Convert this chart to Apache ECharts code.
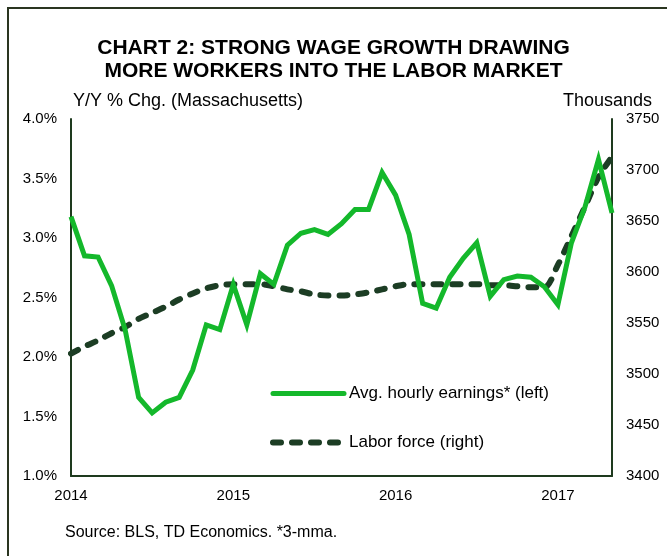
<!DOCTYPE html>
<html>
<head>
<meta charset="utf-8">
<script src="https://cdn.jsdelivr.net/npm/echarts@6/dist/echarts.min.js"></script>
<style>
  html, body { margin: 0; padding: 0; background: #fff; }
  #chart { width: 667px; height: 556px; }
</style>
</head>
<body>
<div id="chart"></div>
<script>
// monthly, Jan 2014 .. May 2017
const years = ['2014', '2015', '2016', '2017'];
const months = [];
years.forEach(y => {
  for (let m = 1; m <= 12; m++) {
    if (y === '2017' && m > 5) break;
    months.push(y + '-' + String(m).padStart(2, '0'));
  }
});

// Avg. hourly earnings, y/y % (3-mma), left axis
const earnings = [
  3.18, 2.85, 2.84, 2.60, 2.23, 1.66, 1.53, 1.62, 1.66, 1.89, 2.27, 2.23,
  2.61, 2.27, 2.70, 2.61, 2.94, 3.04, 3.07, 3.03, 3.12, 3.24, 3.24, 3.55,
  3.36, 3.03, 2.45, 2.41, 2.67, 2.83, 2.96, 2.51, 2.65, 2.68, 2.67, 2.59,
  2.44, 2.96, 3.26, 3.66, 3.21
];

// Labor force, thousands, right axis
const laborForce = [
  3520, 3527, 3533, 3540, 3546, 3554, 3560, 3566, 3573, 3579, 3584, 3587,
  3588, 3588, 3588, 3586, 3583, 3581, 3578, 3577, 3577, 3578, 3580, 3583,
  3586, 3588, 3588, 3588, 3588, 3588, 3588, 3587, 3587, 3586, 3585, 3585,
  3607, 3635, 3664, 3693, 3713
];

const leftTicks = [1.0, 4.0, 0.5];
const rightTicks = [3400, 3750, 50];

const green = '#14b82b';
const darkGreen = '#1c3d24';
const axisColor = '#1e3a1e';
const font = "'Liberation Sans', Arial, sans-serif";
const dash = [8, 11];

const chart = echarts.init(document.getElementById('chart'));

chart.setOption({
  backgroundColor: '#fff',
  animation: false,
  textStyle: { fontFamily: font },
  title: {
    text: 'CHART 2: STRONG WAGE GROWTH DRAWING\nMORE WORKERS INTO THE LABOR MARKET',
    left: 'center',
    top: 32,
    textStyle: {
      fontFamily: font,
      fontWeight: 'bold',
      fontSize: 21,
      lineHeight: 23,
      color: '#000'
    }
  },
  grid: {
    left: 71,
    right: 55,
    top: 119,
    bottom: 80,
    containLabel: false
  },
  legend: {
    orient: 'vertical',
    left: 265,
    top: 380,
    itemWidth: 71,
    itemHeight: 14,
    itemGap: 32,
    textStyle: { fontSize: 17, color: '#000', fontFamily: font },
    data: [
      {
        name: 'Avg. hourly earnings* (left)',
        itemStyle: { opacity: 0 },
        lineStyle: { color: green, width: 5, cap: 'round' }
      },
      {
        name: 'Labor force (right)',
        itemStyle: { opacity: 0 },
        lineStyle: { color: darkGreen, width: 6, type: dash, cap: 'round' }
      }
    ]
  },
  xAxis: {
    type: 'category',
    data: months,
    boundaryGap: false,
    axisLine: { lineStyle: { color: axisColor, width: 2 } },
    axisTick: { show: false },
    axisLabel: {
      interval: (i) => i % 12 === 0,
      formatter: (v) => v.slice(0, 4),
      color: '#000',
      fontSize: 15,
      margin: 12
    },
    splitLine: { show: false }
  },
  yAxis: [
    {
      type: 'value',
      min: leftTicks[0],
      max: leftTicks[1],
      interval: leftTicks[2],
      axisLine: { show: true, lineStyle: { color: axisColor, width: 2 } },
      axisTick: { show: false },
      splitLine: { show: false },
      axisLabel: {
        formatter: (v) => v.toFixed(1) + '%',
        color: '#000',
        fontSize: 15,
        margin: 14
      }
    },
    {
      type: 'value',
      min: rightTicks[0],
      max: rightTicks[1],
      interval: rightTicks[2],
      position: 'right',
      axisLine: { show: true, lineStyle: { color: axisColor, width: 2 } },
      axisTick: { show: false },
      splitLine: { show: false },
      axisLabel: {
        formatter: (v) => String(v),
        color: '#000',
        fontSize: 15,
        margin: 14
      }
    }
  ],
  graphic: [
    {
      type: 'rect',
      shape: { x: 8, y: 8, width: 700, height: 600 },
      style: { fill: 'none', stroke: '#2a3520', lineWidth: 2 },
      silent: true
    },
    {
      type: 'text', left: 73, top: 92,
      style: { text: 'Y/Y % Chg. (Massachusetts)', font: '18px ' + font, fill: '#000' }
    },
    {
      type: 'text', right: 15, top: 92,
      style: { text: 'Thousands', font: '18px ' + font, fill: '#000' }
    },
    {
      type: 'text', left: 65, top: 525,
      style: { text: 'Source: BLS, TD Economics. *3-mma.', font: '16px ' + font, fill: '#000' }
    }
  ],
  series: [
    {
      name: 'Avg. hourly earnings* (left)',
      type: 'line',
      yAxisIndex: 0,
      data: earnings,
      showSymbol: false,
      symbol: 'none',
      lineStyle: { color: green, width: 5, join: 'miter' },
      itemStyle: { color: green },
      z: 3
    },
    {
      name: 'Labor force (right)',
      type: 'line',
      yAxisIndex: 1,
      data: laborForce,
      showSymbol: false,
      symbol: 'none',
      smooth: 0.3,
      lineStyle: { color: darkGreen, width: 6, type: dash, cap: 'round' },
      itemStyle: { color: darkGreen },
      z: 2
    }
  ]
});
</script>
</body>
</html>
